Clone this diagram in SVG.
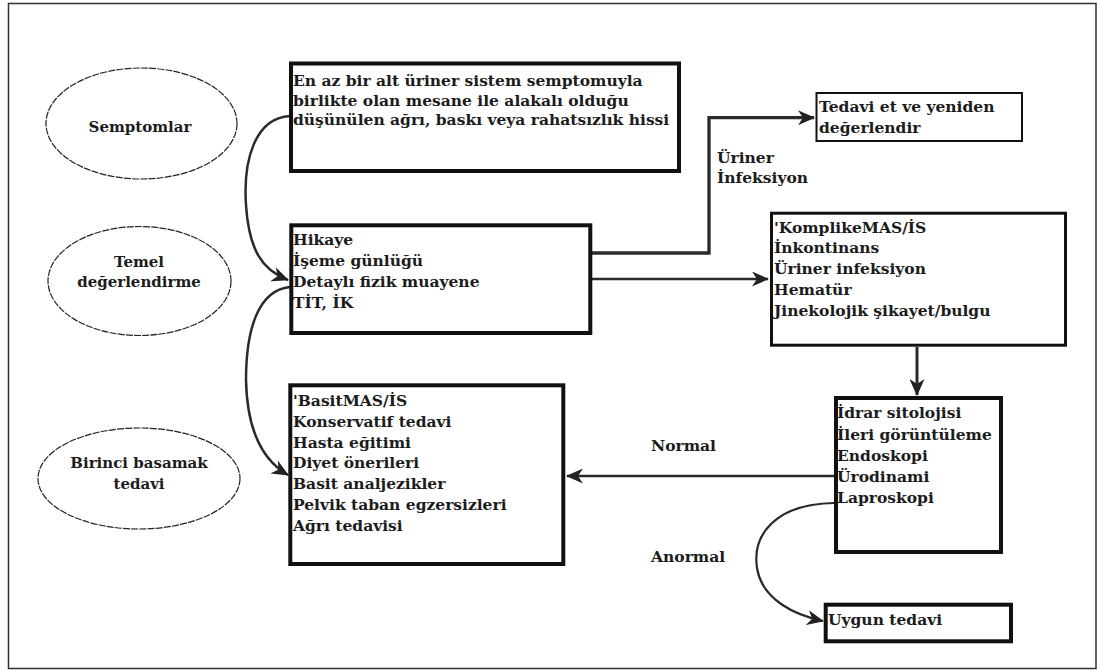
<svg xmlns="http://www.w3.org/2000/svg" width="1098" height="670" viewBox="0 0 1098 670">
<style>
.t{font-family:"DejaVu Serif","Liberation Serif",serif;font-weight:bold;font-size:15.5px;fill:#1c1c1c}
.e{font-size:15px}
.c{text-anchor:middle}
.ell{fill:#fff;stroke:#222;stroke-width:1.2;stroke-dasharray:7 1.2}
.box{fill:#fff;stroke:#111}
.ln{fill:none;stroke:#2a2a2a}
</style>
<defs>
<marker id="ah" markerUnits="userSpaceOnUse" markerWidth="17" markerHeight="15" refX="16" refY="7.5" orient="auto">
<path d="M0,0 L17,7.5 L0,15 L5,7.5 z" fill="#222"/>
</marker>
</defs>
<rect x="0" y="0" width="1098" height="670" fill="#fff"/>
<rect id="frame" x="8.5" y="3.5" width="1087.5" height="665" fill="none" stroke="#333" stroke-width="1.5"/>

<g id="connectors">
<path class="ln" stroke-width="2.5" d="M290,116 C255,118 243,160 246,205 C249,250 262,270 288,280" marker-end="url(#ah)"/>
<path class="ln" stroke-width="2.5" d="M290,287 C258,290 246,330 246,380 C247,430 262,460 288,475" marker-end="url(#ah)"/>
<path class="ln" stroke-width="3.3" d="M592,253 L709,253 L709,117.7 L814,117.7" marker-end="url(#ah)"/>
<path class="ln" stroke-width="2.5" d="M592,279 L768,279" marker-end="url(#ah)"/>
<path class="ln" stroke-width="3" d="M917,347 L917,395" marker-end="url(#ah)"/>
<path class="ln" stroke-width="2.5" d="M834,476 L567,476" marker-end="url(#ah)"/>
<path class="ln" stroke-width="2.2" d="M834,503 C775,504 752,535 757,568 C762,600 795,615 823,621" marker-end="url(#ah)"/>
<text class="t" x="717" y="163">Üriner</text>
<text class="t" x="717" y="183">İnfeksiyon</text>
<text class="t" x="651" y="451">Normal</text>
<text class="t" x="651" y="562">Anormal</text>
</g>

<g id="semptomlar">
<ellipse class="ell" cx="141.5" cy="123.5" rx="95.5" ry="55.5"/>
<text class="t e c" x="140" y="132">Semptomlar</text>
</g>
<g id="temel">
<ellipse class="ell" cx="139.5" cy="281" rx="91.5" ry="54.5"/>
<text class="t e c" x="139" y="267">Temel</text>
<text class="t e c" x="139" y="287">değerlendirme</text>
</g>
<g id="birinci">
<ellipse class="ell" cx="139" cy="478.5" rx="101" ry="50.5"/>
<text class="t e c" x="139" y="468">Birinci basamak</text>
<text class="t e c" x="139" y="489">tedavi</text>
</g>

<g id="semptom-tanimi">
<rect class="box" x="291" y="63.5" width="388" height="107.5" stroke-width="4"/>
<text class="t" x="293" y="86">En az bir alt üriner sistem semptomuyla</text>
<text class="t" x="293" y="105.5">birlikte olan mesane ile alakalı olduğu</text>
<text class="t" x="293" y="125">düşünülen ağrı, baskı veya rahatsızlık hissi</text>
</g>

<g id="hikaye">
<rect class="box" x="291.3" y="225.3" width="299" height="107.7" stroke-width="4"/>
<text class="t" x="293" y="245">Hikaye</text>
<text class="t" x="293" y="266">İşeme günlüğü</text>
<text class="t" x="293" y="287">Detaylı fizik muayene</text>
<text class="t" x="293" y="308">TİT, İK</text>
</g>

<g id="basit">
<rect class="box" x="290.3" y="385.3" width="273" height="178.7" stroke-width="4"/>
<text class="t" x="293" y="406">'BasitMAS/İS</text>
<text class="t" x="293" y="427">Konservatif tedavi</text>
<text class="t" x="293" y="447.5">Hasta eğitimi</text>
<text class="t" x="293" y="468">Diyet önerileri</text>
<text class="t" x="293" y="489">Basit analjezikler</text>
<text class="t" x="293" y="509.5">Pelvik taban egzersizleri</text>
<text class="t" x="293" y="531">Ağrı tedavisi</text>
</g>

<g id="tedavi">
<rect class="box" x="816.5" y="93" width="205.5" height="48" stroke-width="2"/>
<text class="t" x="819" y="112">Tedavi et ve yeniden</text>
<text class="t" x="819" y="133">değerlendir</text>
</g>

<g id="komplike">
<rect class="box" x="771.5" y="213.2" width="294" height="132" stroke-width="3"/>
<text class="t" x="774" y="232.5">'KomplikeMAS/İS</text>
<text class="t" x="774" y="253">İnkontinans</text>
<text class="t" x="774" y="273.5">Üriner infeksiyon</text>
<text class="t" x="774" y="294.5">Hematür</text>
<text class="t" x="774" y="315.5">Jinekolojik şikayet/bulgu</text>
</g>

<g id="idrar">
<rect class="box" x="836" y="398" width="165" height="154" stroke-width="4"/>
<text class="t" x="837" y="418">İdrar sitolojisi</text>
<text class="t" x="837" y="439.5">İleri görüntüleme</text>
<text class="t" x="837" y="461">Endoskopi</text>
<text class="t" x="837" y="482">Ürodinami</text>
<text class="t" x="837" y="503">Laproskopi</text>
</g>

<g id="uygun">
<rect class="box" x="825.7" y="604.7" width="185.3" height="36.6" stroke-width="4"/>
<text class="t" x="828" y="625">Uygun tedavi</text>
</g>
</svg>
